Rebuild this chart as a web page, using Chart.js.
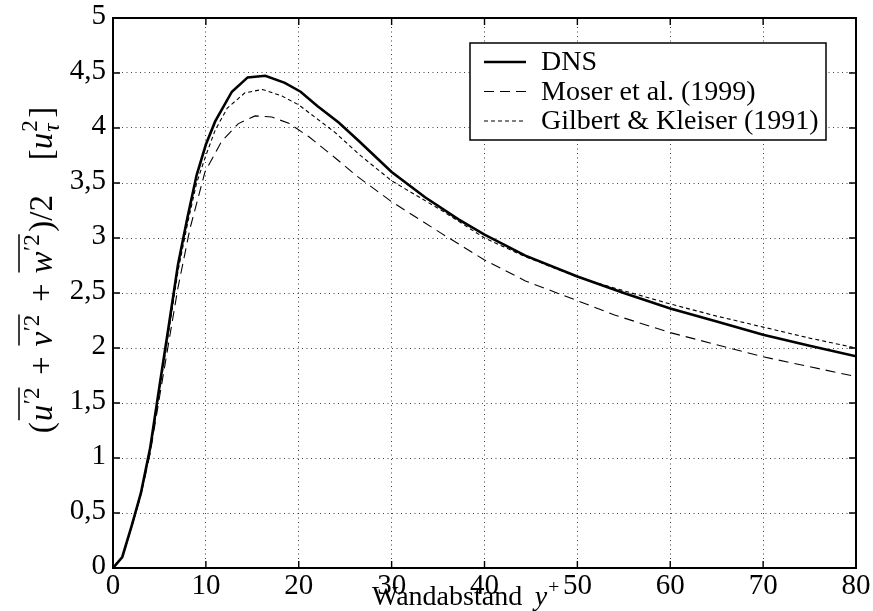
<!DOCTYPE html>
<html>
<head>
<meta charset="utf-8">
<script src="https://cdn.jsdelivr.net/npm/chart.js@4.4.0/dist/chart.umd.min.js"></script>
<style>
  html, body { margin: 0; padding: 0; background: #fff; }
</style>
</head>
<body>
<canvas id="chart-tke" width="873" height="611"></canvas>
<script>
// Data (y+ vs. k in units of u_tau^2)
const dns_x = [0, 1, 2, 3, 4, 5, 6, 7, 8, 9, 10, 11, 12.8, 14.5, 16.4, 18.5, 20.2, 22, 24.3, 26.5, 30, 33.6, 37.2, 40, 44.4, 50, 55, 60, 65, 70, 75, 80]
const dns_y = [0, 0.1, 0.38, 0.68, 1.09, 1.65, 2.2, 2.76, 3.18, 3.57, 3.85, 4.06, 4.33, 4.46, 4.475, 4.41, 4.33, 4.2, 4.05, 3.88, 3.6, 3.37, 3.17, 3.03, 2.84, 2.65, 2.5, 2.36, 2.24, 2.12, 2.02, 1.925]

const moser_x = [0, 1, 2, 3, 4, 5, 6, 7, 8.3, 9.9, 11.7, 13.5, 15.3, 17.1, 19, 21.1, 23.9, 26.3, 30, 35.4, 40, 44.4, 50, 54, 60, 65, 70, 75, 80]
const moser_y = [0, 0.1, 0.37, 0.66, 1.04, 1.55, 2.05, 2.55, 3.09, 3.6, 3.88, 4.04, 4.11, 4.1, 4.04, 3.92, 3.73, 3.56, 3.33, 3.04, 2.8, 2.61, 2.43, 2.3, 2.14, 2.03, 1.92, 1.83, 1.74]

const gilbert_x = [0, 1, 2, 3, 4, 5, 6, 7, 8, 9, 10, 11, 12.3, 14.2, 16.1, 18.2, 20, 23.9, 26.5, 30, 35.4, 40, 44.4, 50, 55, 60, 65, 70, 75, 80]
const gilbert_y = [0, 0.1, 0.37, 0.67, 1.06, 1.6, 2.15, 2.7, 3.12, 3.5, 3.75, 3.98, 4.18, 4.32, 4.35, 4.29, 4.21, 3.96, 3.76, 3.52, 3.25, 3.0, 2.83, 2.645, 2.52, 2.4, 2.29, 2.19, 2.09, 2.0]

const series_labels = ['DNS', 'Moser et al. (1999)', 'Gilbert & Kleiser (1991)']

// Axis settings
const x_min = 0, x_max = 80, x_step = 10
const y_min = 0, y_max = 5, y_step = 0.5

const serif = '"Liberation Serif", "Times New Roman", serif'
const grid_color = 'rgba(0, 0, 0, 0.75)'

function points(xs, ys) {
    return xs.map((x, i) => ({x: x, y: ys[i]}))
}

// Draws the axes box with inward tick marks
const frame_plugin = {
    id: 'frame',
    afterDatasetsDraw(chart) {
        const {ctx, chartArea: a, scales: {x, y}} = chart
        ctx.save()
        ctx.strokeStyle = '#000'
        ctx.setLineDash([])
        ctx.lineWidth = 1.4
        ctx.beginPath()
        x.ticks.forEach(t => {
            const px = x.getPixelForValue(t.value)
            ctx.moveTo(px, a.bottom); ctx.lineTo(px, a.bottom - 7)
            ctx.moveTo(px, a.top); ctx.lineTo(px, a.top + 7)
        })
        y.ticks.forEach(t => {
            const py = y.getPixelForValue(t.value)
            ctx.moveTo(a.left, py); ctx.lineTo(a.left + 7, py)
            ctx.moveTo(a.right, py); ctx.lineTo(a.right - 7, py)
        })
        ctx.stroke()
        ctx.lineWidth = 2
        ctx.strokeRect(a.left, a.top, a.right - a.left, a.bottom - a.top)
        ctx.restore()
    }
}

// Legend box in the upper right of the plot
const legend_plugin = {
    id: 'boxlegend',
    afterDraw(chart) {
        const {ctx, chartArea: a} = chart
        const bx = a.right - 386, by = a.top + 25, bw = 356, bh = 97
        ctx.save()
        ctx.fillStyle = '#fff'
        ctx.fillRect(bx, by, bw, bh)
        ctx.strokeStyle = '#000'
        ctx.lineWidth = 1.5
        ctx.setLineDash([])
        ctx.strokeRect(bx, by, bw, bh)
        ctx.font = '28px ' + serif
        ctx.fillStyle = '#000'
        ctx.textBaseline = 'middle'
        chart.data.datasets.forEach((ds, i) => {
            const ry = by + 19 + i * 29.5
            ctx.lineWidth = ds.borderWidth
            ctx.setLineDash(ds.borderDash || [])
            ctx.beginPath()
            ctx.moveTo(bx + 14, ry)
            ctx.lineTo(bx + 56, ry)
            ctx.stroke()
            ctx.setLineDash([])
            ctx.fillText(ds.label, bx + 71, ry + 1)
        })
        ctx.restore()
    }
}

// Axis titles with italic symbols, superscripts and overlines
function draw_runs(ctx, runs, size, draw) {
    let x = 0
    runs.forEach(r => {
        const fs = r.small ? size * 0.7 : size
        x += (r.pre || 0) * size
        ctx.font = (r.italic ? 'italic ' : '') + fs + 'px ' + serif
        let w = ctx.measureText(r.text).width
        if (draw) ctx.fillText(r.text, x, -(r.rise || 0) * size)
        if (r.stack) {
            // second glyph stacked on the same x (sub + sup)
            ctx.font = fs + 'px ' + serif
            if (draw) ctx.fillText(r.stack, x, -(r.stackRise || 0) * size)
            w = Math.max(w, ctx.measureText(r.stack).width)
        }
        r.x0 = x
        x += w + (r.post || 0) * size
        r.x1 = x - (r.post || 0) * size
    })
    return x
}

const title_plugin = {
    id: 'titles',
    afterDraw(chart) {
        const {ctx, chartArea: a} = chart
        ctx.save()
        ctx.fillStyle = '#000'
        ctx.strokeStyle = '#000'
        ctx.textBaseline = 'alphabetic'

        // x title
        const xsize = 28
        const xruns = [
            {text: 'Wandabstand', post: 0.45},
            {text: 'y', italic: true, post: 0.04},
            {text: '+', small: true, rise: 0.42}
        ]
        ctx.save()
        ctx.translate(a.left + 259, 605)
        draw_runs(ctx, xruns, xsize, true)
        ctx.restore()

        // y title
        const ysize = 33
        const yruns = [
            {text: '(', post: 0.03},
            {text: 'u', italic: true, bar: 1, post: 0.02},
            {text: '\u20322', small: true, rise: 0.38, post: 0.08},
            {text: '+', pre: 0.3, post: 0.3},
            {text: 'v', italic: true, bar: 1, post: 0.02},
            {text: '\u20322', small: true, rise: 0.38, post: 0.08},
            {text: '+', pre: 0.3, post: 0.3},
            {text: 'w', italic: true, bar: 1, post: 0.02},
            {text: '\u20322', small: true, rise: 0.38, post: 0.08},
            {text: ')/2', post: 1.05},
            {text: '['},
            {text: 'u', italic: true, post: 0.03},
            {text: '\u03c4', italic: true, small: true, rise: -0.22, stack: '2', stackRise: 0.45, post: 0.08},
            {text: ']'}
        ]
        const yw = draw_runs(ctx, yruns, ysize, false)
        ctx.save()
        ctx.translate(52, a.top + 252 + yw / 2)
        ctx.rotate(-Math.PI / 2)
        draw_runs(ctx, yruns, ysize, true)
        // overlines over u'^2, v'^2, w'^2
        ctx.lineWidth = 1.5
        ctx.beginPath()
        for (let i = 0; i < yruns.length; i++) {
            if (yruns[i].bar === 1) {
                ctx.moveTo(yruns[i].x0 + 1, -ysize * 1.0)
                ctx.lineTo(yruns[i + 1].x1, -ysize * 1.0)
            }
        }
        ctx.stroke()
        ctx.restore()

        ctx.restore()
    }
}

// Chart data
const data = {
    datasets: [{
            label: series_labels[0],
            data: points(dns_x, dns_y),
            borderColor: '#000',
            borderWidth: 2.6,
            borderDash: [],
        },
        {
            label: series_labels[1],
            data: points(moser_x, moser_y),
            borderColor: '#000',
            borderWidth: 1.1,
            borderDash: [10, 6],
        },
        {
            label: series_labels[2],
            data: points(gilbert_x, gilbert_y),
            borderColor: '#000',
            borderWidth: 1.1,
            borderDash: [4, 3],
        },
    ]
}

const tick_font = {family: serif, size: 29}

// Chart settings
const config = {
    type: 'line',
    data: data,
    plugins: [frame_plugin, legend_plugin, title_plugin],
    options: {
        responsive: false,
        animation: false,
        layout: {
            padding: {left: 0, top: 18, right: 17, bottom: 0},
        },
        elements: {
            point: {radius: 0},
            line: {tension: 0, fill: false},
        },
        plugins: {
            legend: {display: false},
            tooltip: {enabled: false},
        },
        scales: {
            x: {
                type: 'linear',
                min: x_min,
                max: x_max,
                afterFit: s => { s.height = 43; s.paddingLeft = 0; s.paddingRight = 0 },
                ticks: {
                    stepSize: x_step,
                    font: tick_font,
                    color: '#000',
                    padding: 1,
                    maxRotation: 0,
                },
                grid: {color: grid_color, lineWidth: 1, drawTicks: false},
                border: {display: false, dash: [1, 3.5]},
            },
            y: {
                type: 'linear',
                min: y_min,
                max: y_max,
                afterFit: s => { s.width = 113; s.paddingTop = 0; s.paddingBottom = 0 },
                ticks: {
                    stepSize: y_step,
                    font: tick_font,
                    color: '#000',
                    padding: 7,
                    labelOffset: -2,
                    callback: v => String(v).replace('.', ','),
                },
                grid: {color: grid_color, lineWidth: 1, drawTicks: false},
                border: {display: false, dash: [1, 3.5]},
            },
        },
    }
}

const context = document.getElementById('chart-tke').getContext('2d')
const chart = new Chart(context, config)
</script>
</body>
</html>
